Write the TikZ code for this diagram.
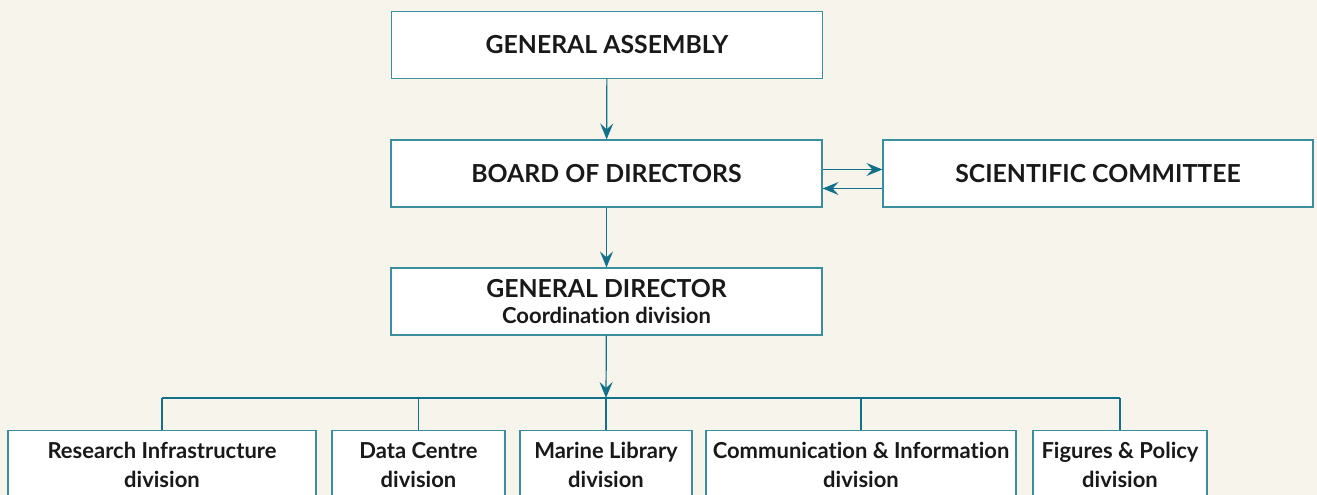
\documentclass[tikz,border=0pt]{standalone}
\usepackage{fontspec}
\setmainfont{Lato}[Ligatures=NoCommon]
\usetikzlibrary{arrows.meta}
\definecolor{cream}{HTML}{F7F4EC}
\definecolor{boxline}{HTML}{3A8E9E}
\definecolor{arrowline}{HTML}{12708A}
\tikzset{
  box/.style={draw=boxline, fill=white, line width=1.2pt, inner sep=0pt, align=center,
    font=\bfseries\fontsize{22}{27}\selectfont, text=black!90},
  topbox/.style={box, minimum width=431pt, minimum height=67pt},
  capsfont/.style={font=\bfseries\fontsize{24.8}{27}\selectfont},
  divbox/.style={box, anchor=north, inner xsep=0pt, inner ysep=12pt,
    font=\bfseries\fontsize{22}{29}\selectfont},
  link/.style={draw=arrowline, line width=1.2pt},
  arr/.style={link, -{Stealth[length=16pt, width=13pt, inset=6pt]}}
}
\begin{document}
\begin{tikzpicture}[x=1pt, y=-1pt]
  \fill[cream] (0,0) rectangle (1317,495);
  \useasboundingbox (0,0) rectangle (1317,495);
  \clip (0,0) rectangle (1317,495);
  % top of the chart
  \node[topbox, capsfont] (ga) at (607,45) {GENERAL ASSEMBLY};
  \node[topbox, capsfont] (bod) at (606.5,173.5) {BOARD OF DIRECTORS};
  \node[topbox, capsfont, minimum width=430pt] (sc) at (1098,173.5) {SCIENTIFIC COMMITTEE};
  \node[topbox] (gd) at (606.5,301.5) {{\fontsize{24.8}{27}\selectfont GENERAL DIRECTOR}\\[-1pt]Coordination division};
  \draw[arr] (ga) -- (bod);
  \draw[arr] (bod) -- (gd);
  \draw[arr] ([yshift=4pt]bod.east) -- ([yshift=4pt]sc.west);
  \draw[arr] ([yshift=-15pt]sc.west) -- ([yshift=-15pt]bod.east);
  % divisions
  \node[divbox, minimum width=308pt] (rid) at (162,430) {Research Infrastructure\\division};
  \node[divbox, minimum width=173pt] (dcd) at (418.5,430) {Data Centre\\division};
  \node[divbox, minimum width=172pt] (mld) at (606,430) {Marine Library\\division};
  \node[divbox, minimum width=310pt] (cid) at (861,430) {Communication \& Information\\division};
  \node[divbox, minimum width=174pt] (fpd) at (1120,430) {Figures \& Policy\\division};
  \coordinate (bus) at (606,398);
  \draw[arr] (gd) -- (bus);
  \draw[link] (rid.north |- bus) -- (fpd.north |- bus);
  \foreach \n in {rid,dcd,mld,cid,fpd} \draw[link] (\n.north |- bus) -- (\n.north);
\end{tikzpicture}
\end{document}
